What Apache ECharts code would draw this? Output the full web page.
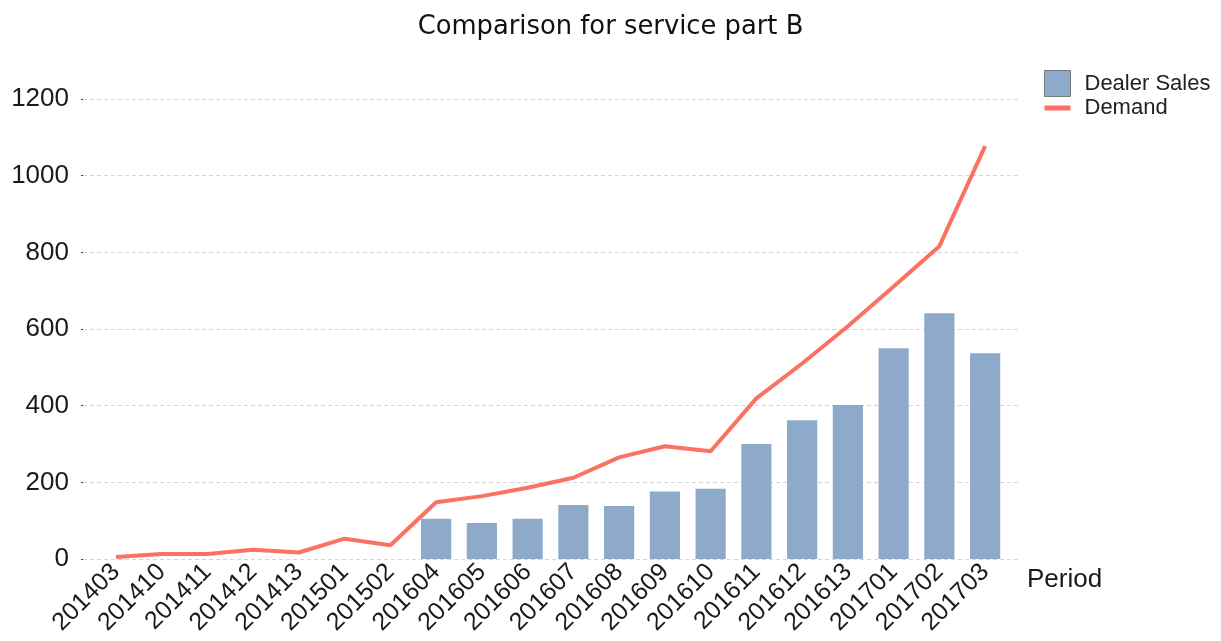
<!DOCTYPE html>
<html>
<head>
<meta charset="utf-8">
<title>Comparison for service part B</title>
<script src="https://cdn.jsdelivr.net/npm/echarts@6/dist/echarts.min.js"></script>
<style>
  html, body { margin: 0; padding: 0; background: #fff; }
  #chart { width: 1221px; height: 641px; }
</style>
</head>
<body>
<div id="chart"></div>
<script>
// Periods on the x axis
const periods = ['201403', '201410', '201411', '201412', '201413', '201501', '201502',
  '201604', '201605', '201606', '201607', '201608', '201609', '201610',
  '201611', '201612', '201613', '201701', '201702', '201703'];

// Dealer sales (bars); no sales recorded before 201604
const dealerSales = [null, null, null, null, null, null, null,
  105, 94, 105, 141, 138, 176, 183,
  300, 362, 402, 550, 641, 537];

// Demand (line)
const demand = [5, 13, 13, 24, 17, 53, 36,
  148, 164, 186, 212, 265, 294, 281,
  419, 510, 607, 711, 816, 1077];

// Value axis ticks
const yMin = 0, yMax = 1200, yStep = 200;

const sansFont = '"Liberation Sans", Arial, sans-serif';
const barColor = '#8eaacb';
const lineColor = '#fb7262';

const chart = echarts.init(document.getElementById('chart'), null, { renderer: 'canvas' });

chart.setOption({
  backgroundColor: '#ffffff',
  animation: false,
  title: {
    text: 'Comparison for service part B',
    left: 'center',
    top: 9,
    textStyle: { fontFamily: '"DejaVu Sans", Verdana, sans-serif', fontSize: 25.8, fontWeight: 'normal', color: '#111' }
  },
  legend: {
    orient: 'vertical',
    left: 1044,
    top: 70,
    padding: 0,
    itemWidth: 26,
    itemHeight: 26,
    itemGap: 0,
    textStyle: { fontFamily: sansFont, fontSize: 22, color: '#222', padding: [2, 0, 0, 9] },
    data: [
      { name: 'Dealer Sales', icon: 'rect', itemStyle: { color: barColor, borderColor: '#7a7a7a', borderWidth: 1 } },
      { name: 'Demand', icon: 'path://M0,0H26V5H0Z', itemStyle: { color: lineColor } }
    ]
  },
  grid: [
    // wider grid that carries the value labels and dashed grid lines
    { left: 83, right: 202, top: 99, bottom: 82 },
    // plotting grid for the bars and the line
    { left: 93, right: 213, top: 99, bottom: 82 }
  ],
  xAxis: [
    { gridIndex: 0, type: 'value', min: 0, max: 1, show: false },
    {
      gridIndex: 1,
      type: 'category',
      data: periods,
      boundaryGap: true,
      axisLine: { show: false },
      axisTick: { show: false },
      axisLabel: {
        rotate: 45,
        interval: 0,
        margin: 9,
        fontFamily: sansFont,
        fontSize: 25,
        color: '#1a1a1a'
      },
      name: 'Period',
      nameLocation: 'end',
      nameGap: 19,
      nameTextStyle: {
        fontFamily: sansFont,
        fontSize: 26,
        color: '#1a1a1a',
        verticalAlign: 'top',
        padding: [8, 0, 0, 0]
      }
    }
  ],
  yAxis: [
    {
      gridIndex: 0,
      type: 'value',
      min: yMin,
      max: yMax,
      interval: yStep,
      axisLine: { show: false },
      axisTick: { show: true, length: 2, lineStyle: { color: '#444' } },
      axisLabel: {
        margin: 14,
        fontFamily: sansFont,
        fontSize: 26,
        color: '#1a1a1a',
        formatter: (v) => String(v)
      },
      splitLine: { show: true, lineStyle: { color: '#d4d4d4', type: [4, 3], width: 1 } }
    },
    {
      gridIndex: 1,
      type: 'value',
      min: yMin,
      max: yMax,
      interval: yStep,
      show: false,
      splitLine: { show: false }
    }
  ],
  series: [
    {
      name: 'Dealer Sales',
      type: 'bar',
      xAxisIndex: 1,
      yAxisIndex: 1,
      data: dealerSales,
      barWidth: '66%',
      itemStyle: { color: barColor }
    },
    {
      name: 'Demand',
      type: 'line',
      xAxisIndex: 1,
      yAxisIndex: 1,
      data: demand,
      symbol: 'none',
      showSymbol: false,
      lineStyle: { color: lineColor, width: 4 },
      itemStyle: { color: lineColor }
    }
  ]
});
</script>
</body>
</html>
